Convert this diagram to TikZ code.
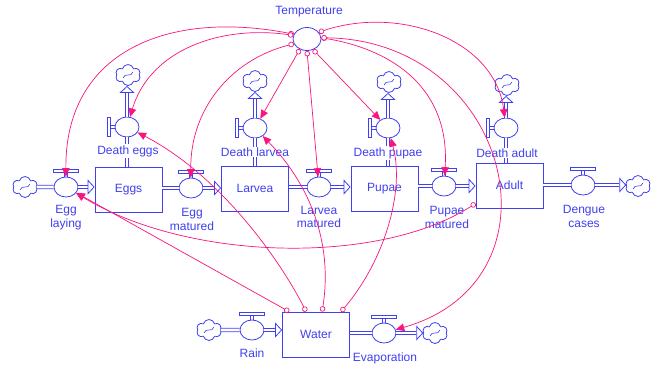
\documentclass[tikz,border=0pt]{standalone}
\usepackage{fontspec}
\setmainfont{Liberation Sans}
\usetikzlibrary{arrows.meta,shapes.geometric,shapes.symbols,calc}
\definecolor{fb}{RGB}{64,64,240}
\definecolor{cp}{RGB}{250,20,125}
\begin{document}
\begin{tikzpicture}[x=1pt,y=-1pt,
 stock/.style={draw=fb, line width=0.8pt, minimum width=67pt, minimum height=45pt, inner sep=0pt, text=fb, font=\fontsize{12}{14}\selectfont},
 valve/.style={ellipse, draw=fb, line width=0.8pt, minimum width=24pt, minimum height=20pt, inner sep=0pt, fill=white},
 cloudy/.style={cloud, cloud puffs=6, aspect=1.2, draw=fb, line width=0.8pt, minimum width=25pt, minimum height=21pt, inner sep=0pt, fill=white,
   path picture={\draw[fb, line width=0.6pt] (path picture bounding box.center) ++(-5,3) .. controls +(2,-6) and +(-2,6) .. ++(10,-6);}},
 lbl/.style={text=fb, font=\fontsize{12}{13.5}\selectfont, align=center, inner sep=1pt},
 lblw/.style={lbl, fill=white},
 pipe/.style={draw=fb, line width=0.8pt, double=white, double distance=2.6pt},
 pipetip/.style={pipe, -{Triangle[open, length=7pt, width=15pt, line width=0.8pt, fill=white]}},
 link/.style={draw=cp, line width=0.7pt, {Circle[open, length=5.5pt, width=5.5pt, fill=white]}-{Triangle[length=8.5pt, width=7.5pt]}},
 hbar/.pic={\draw[fb, line width=0.7pt] (-1.7,0) -- (-1.7,-4.5) (1.7,0) -- (1.7,-4.5);
            \draw[fb, line width=0.7pt, fill=white] (-12.5,-4.5) rectangle (12.5,-7.3);},
 vbar/.pic={\draw[fb, line width=0.7pt] (0,-1.7) -- (-4.5,-1.7) (0,1.7) -- (-4.5,1.7);
            \draw[fb, line width=0.7pt, fill=white] (-4.5,-9.5) rectangle (-7.3,9.5);}
]
\fill[white] (0,0) rectangle (658,365);
\useasboundingbox (0,0) rectangle (658,365);

% stocks
\node[stock] (eggs) at (128.5,189.5) {Eggs};
\node[stock] (larv) at (255,188.5) {Larvea};
\node[stock] (pup) at (384.5,188.5) {Pupae};
\node[stock] (adult) at (509.5,185.5) {Adult};
\node[stock] (water) at (316,334.5) {Water};

% valves
\node[valve] (elay) at (66,187) {};
\node[valve] (emat) at (191,188) {};
\node[valve] (lmat) at (319,187) {};
\node[valve] (pmat) at (444,186) {};
\node[valve] (deng) at (583,185) {};
\node[valve] (rain) at (252,330) {};
\node[valve] (evap) at (384,333) {};
\node[valve] (deggs) at (127,127) {};
\node[valve] (dlarv) at (255,128) {};
\node[valve] (dpup) at (388,128) {};
\node[valve] (dadult) at (506,128) {};

% clouds
\node[cloudy] (c1) at (25,187) {};
\node[cloudy] (c2) at (638,186) {};
\node[cloudy] (c3) at (209,330) {};
\node[cloudy] (c4) at (435,333) {};
\node[cloudy] (c5) at (128,75) {};
\node[cloudy] (c6) at (255,81) {};
\node[cloudy] (c7) at (389,82) {};
\node[cloudy] (c8) at (507,85) {};

% pipes
\draw[pipe] (c1) -- (elay);
\draw[pipetip] (elay.east) -- (elay.east -| eggs.west);
\draw[pipe] (emat.west -| eggs.east) -- (emat.west);
\draw[pipetip] (emat.east) -- (emat.east -| larv.west);
\draw[pipe] (lmat.west -| larv.east) -- (lmat.west);
\draw[pipetip] (lmat.east) -- (lmat.east -| pup.west);
\draw[pipe] (pmat.west -| pup.east) -- (pmat.west);
\draw[pipetip] (pmat.east) -- (pmat.east -| adult.west);
\draw[pipe] (deng.west -| adult.east) -- (deng.west);
\draw[pipetip] (deng.east) -- (deng.east -| c2.west);
\draw[pipe] (c3) -- (rain);
\draw[pipetip] (rain.east) -- (rain.east -| water.west);
\draw[pipe] (evap.west -| water.east) -- (evap.west);
\draw[pipetip] (evap.east) -- (evap.east -| c4.west);
\draw[pipe] (deggs.south) -- (deggs.south |- eggs.north);
\draw[pipetip] (deggs.north) -- (deggs.north |- c5.south);
\draw[pipe] (dlarv.south) -- (dlarv.south |- larv.north);
\draw[pipetip] (dlarv.north) -- (dlarv.north |- c6.south);
\draw[pipe] (dpup.south) -- (dpup.south |- pup.north);
\draw[pipetip] (dpup.north) -- (dpup.north |- c7.south);
\draw[pipe] (dadult.south) -- (dadult.south |- adult.north);
\draw[pipetip] (dadult.north) -- (dadult.north |- c8.south);

% valve bars
\pic at (elay.north) {hbar};
\pic at (emat.north) {hbar};
\pic at (lmat.north) {hbar};
\pic at (pmat.north) {hbar};
\pic at (deng.north) {hbar};
\pic at (rain.north) {hbar};
\pic at (evap.north) {hbar};
\pic at (deggs.west) {vbar};
\pic at (dlarv.west) {vbar};
\pic at (dpup.west) {vbar};
\pic at (dadult.west) {vbar};

% auxiliary
\node[ellipse, draw=fb, line width=0.8pt, minimum width=28pt, minimum height=23pt] (temp) at (307,39) {};
\node[lbl] (templ) at (309,12) {Temperature};

% labels
\node[lbl] (lelay) at (66,217.5) {Egg\\laying};
\node[lbl] (lemat) at (192,219.5) {Egg\\matured};
\node[lbl] (llmat) at (319,217) {Larvea\\matured};
\node[lbl] (lpmat) at (447,217.5) {Pupae\\matured};
\node[lbl] (ldeng) at (584,216.5) {Dengue\\cases};
\node[lblw] (ldeggs) at (128,151) {Death eggs};
\node[lblw] (ldlarv) at (255,152) {Death larvea};
\node[lblw] (ldpup) at (388,153) {Death pupae};
\node[lblw] (ldadult) at (507,153) {Death adult};
\node[lbl] (lrain) at (252,353) {Rain};
\node[lbl] (levap) at (385,358) {Evaporation};

% tail coordinates
\coordinate (w1) at ($(water.north west)+(7,0)$);
\coordinate (w2) at ($(water.north west)+(24,0)$);
\coordinate (w3) at ($(water.north west)+(40,0)$);
\coordinate (w4) at ($(water.north west)+(59,0)$);
\coordinate (a1) at ($(adult.south west)+(0,-5)$);

% links
\draw[link] (temp.160) .. controls (170,10) and (65,50) .. (elay);
\draw[link] (temp.165) .. controls (220,25) and (150,50) .. (deggs);
\draw[link] (temp.200) .. controls (230,60) and (190,110) .. (emat);
\draw[link] (temp.235) -- (dlarv);
\draw[link] (temp.270) -- (lmat);
\draw[link] (temp.300) -- (dpup);
\draw[link] (temp.5) .. controls (395,50) and (450,90) .. (pmat);
\draw[link] (temp.30) .. controls (400,5) and (495,40) .. (dadult);
\draw[link] (temp.5) .. controls (510,40) and (570,280) .. (evap);
\draw[link] (a1) .. controls (380,265) and (190,262) .. (elay);
\draw[link] (w1) -- (elay);
\draw[link] (w2) .. controls (280,260) and (220,175) .. (deggs);
\draw[link] (w3) .. controls (332,250) and (315,190) .. (dlarv);
\draw[link] (w4) .. controls (385,260) and (405,190) .. (dpup);
\end{tikzpicture}
\end{document}
